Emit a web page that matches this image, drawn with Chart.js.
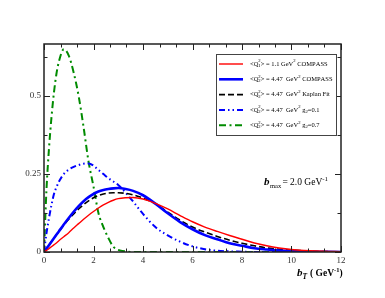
<!DOCTYPE html>
<html>
<head>
<meta charset="utf-8">
<script src="https://cdn.jsdelivr.net/npm/chart.js@4"></script>
<style>
  html, body { margin: 0; padding: 0; background: #fff; }
  #wrap { width: 385px; height: 298px; }
</style>
</head>
<body>
<div id="wrap"><canvas id="chart" width="385" height="298"></canvas></div>
<script>
// b_T in GeV^-1
const bT = [0, 0.1, 0.2, 0.3, 0.4, 0.5, 0.6, 0.8, 1.0, 1.2, 1.4, 1.6, 1.8, 2.0, 2.2, 2.4, 2.6, 2.8, 3.0, 3.3, 3.6,
  4.0, 4.5, 5.0, 5.5, 6.0, 6.5, 7.0, 7.5, 8.0, 8.5, 9.0, 9.5, 10, 10.5, 11, 11.5, 12];

const compassLow = [0, 0.005, 0.011, 0.017, 0.023, 0.029, 0.036, 0.049, 0.062, 0.077, 0.091, 0.105, 0.118, 0.13, 0.141,
  0.151, 0.159, 0.166, 0.171, 0.174, 0.175, 0.17, 0.156, 0.138, 0.117, 0.097, 0.08, 0.066, 0.053, 0.041, 0.029,
  0.02, 0.013, 0.008, 0.005, 0.003, 0.002, 0.001];
const compassHigh = [0, 0.011, 0.022, 0.033, 0.044, 0.055, 0.066, 0.088, 0.109, 0.129, 0.147, 0.163, 0.176, 0.186,
  0.194, 0.199, 0.202, 0.204, 0.205, 0.202, 0.196, 0.182, 0.155, 0.124, 0.096, 0.073, 0.054, 0.041, 0.028, 0.02,
  0.012, 0.008, 0.005, 0.003, 0.002, 0.001, 0.0005, 0];
const kaplanFit = [0, 0.011, 0.022, 0.033, 0.044, 0.055, 0.065, 0.086, 0.105, 0.122, 0.138, 0.152, 0.164, 0.174,
  0.181, 0.186, 0.189, 0.19, 0.19, 0.188, 0.183, 0.173, 0.155, 0.128, 0.102, 0.08, 0.064, 0.05, 0.038, 0.028,
  0.02, 0.013, 0.009, 0.006, 0.004, 0.002, 0.001, 0.0005];
const g2Small = [0, 0.06, 0.108, 0.15, 0.185, 0.207, 0.225, 0.25, 0.264, 0.273, 0.279, 0.283, 0.284, 0.277, 0.263,
  0.25, 0.237, 0.226, 0.215, 0.19, 0.162, 0.122, 0.08, 0.053, 0.033, 0.018, 0.009, 0.004, 0.002, 0.001, 0, 0, 0,
  0, 0, 0, 0, 0];
const g2Large = [0, 0.2, 0.33, 0.43, 0.51, 0.57, 0.61, 0.65, 0.63, 0.575, 0.5, 0.4, 0.29, 0.21, 0.125, 0.08, 0.045,
  0.017, 0.007, 0.002, 0, 0, 0, 0, 0, 0, 0, 0, 0, 0, 0, 0, 0, 0, 0, 0, 0, 0];

const seriesLabels = [
  '<Q₁²> = 1.1 GeV² COMPASS',
  '<Q₂²> = 4.47  GeV² COMPASS',
  '<Q₂²> = 4.47  GeV² Kaplan Fit',
  '<Q₂²> = 4.47  GeV² g₂=0.1',
  '<Q₂²> = 4.47  GeV² g₂=0.7',
];
const xTicks = [0, 2, 4, 6, 8, 10, 12];
const yTicks = [0, 0.25, 0.5];

const SERIF = '"Liberation Serif", "DejaVu Serif", serif';
const SUB = { '₁': '1', '₂': '2' };
const SUP = { '²': '2', '⁻': '-', '¹': '1' };

function points(values) {
  return bT.map((x, i) => ({ x, y: values[i] }));
}

// draws a label, turning unicode sub/superscripts into small shifted text
function drawRich(ctx, text, x, y, size) {
  const big = size + 'px ' + SERIF;
  const small = (size * 0.72).toFixed(1) + 'px ' + SERIF;
  let subX = null;
  for (const ch of text) {
    if (SUB[ch]) {
      ctx.font = small;
      ctx.fillText(SUB[ch], x, y + size * 0.3);
      subX = x;
      x += ctx.measureText(SUB[ch]).width;
    } else if (SUP[ch]) {
      ctx.font = small;
      const sx = subX !== null ? subX : x;
      ctx.fillText(SUP[ch], sx, y - size * 0.45);
      x = Math.max(x, sx + ctx.measureText(SUP[ch]).width);
      subX = null;
    } else {
      ctx.font = big;
      ctx.fillText(ch, x, y);
      x += ctx.measureText(ch).width;
      subX = null;
    }
  }
  return x;
}

const framePlugin = {
  id: 'frame',
  afterDatasetsDraw(chart) {
    const { ctx, chartArea: a, scales } = chart;
    ctx.save();
    ctx.strokeStyle = '#222';
    ctx.lineWidth = 1.5;
    ctx.strokeRect(a.left, a.top, a.right - a.left, a.bottom - a.top);
    ctx.lineWidth = 1;
    ctx.beginPath();
    for (let v = 0; v <= 12.001; v += 2 / 3) {
      const px = Math.round(scales.x.getPixelForValue(v)) + 0.5;
      const len = Math.abs(v / 2 - Math.round(v / 2)) < 0.01 ? 6 : 3.5;
      ctx.moveTo(px, a.bottom); ctx.lineTo(px, a.bottom - len);
      ctx.moveTo(px, a.top); ctx.lineTo(px, a.top + len);
    }
    for (let v = 0; v <= 0.66; v += 0.125) {
      const py = Math.round(scales.y.getPixelForValue(v)) + 0.5;
      const len = Math.abs(v / 0.25 - Math.round(v / 0.25)) < 0.01 ? 6 : 3.5;
      ctx.moveTo(a.left, py); ctx.lineTo(a.left + len, py);
      ctx.moveTo(a.right, py); ctx.lineTo(a.right - len, py);
    }
    ctx.stroke();
    ctx.restore();
  },
  afterDraw(chart) {
    const { ctx } = chart;
    ctx.save();
    // legend box
    const box = { left: 216, top: 54, right: 336, bottom: 135 };
    ctx.fillStyle = '#fff';
    ctx.fillRect(box.left, box.top, box.right - box.left, box.bottom - box.top);
    ctx.strokeStyle = '#444';
    ctx.lineWidth = 1;
    ctx.strokeRect(box.left + 0.5, box.top + 0.5, box.right - box.left, box.bottom - box.top);
    chart.data.datasets.forEach((ds, i) => {
      const y = 64 + i * 15.3;
      ctx.strokeStyle = ds.borderColor;
      ctx.lineWidth = ds.borderWidth;
      ctx.setLineDash(ds.borderDash || []);
      ctx.beginPath();
      ctx.moveTo(219, y); ctx.lineTo(243, y);
      ctx.stroke();
      ctx.setLineDash([]);
      ctx.fillStyle = '#000';
      ctx.textBaseline = 'middle';
      drawRich(ctx, ds.label, 250, y, 6.5);
    });
    ctx.textBaseline = 'alphabetic';
    ctx.fillStyle = '#000';
    // b_max annotation
    ctx.font = 'italic bold 11px ' + SERIF;
    ctx.fillText('b', 264, 185);
    ctx.font = '6.5px ' + SERIF;
    ctx.fillText('max', 270, 188);
    drawRich(ctx, ' = 2.0 GeV⁻¹', 280, 185, 9.5);
    // x axis title
    ctx.font = 'italic bold 11px ' + SERIF;
    ctx.fillText('b', 297, 276);
    ctx.font = 'italic bold 7.5px ' + SERIF;
    ctx.fillText('T', 302.5, 279);
    ctx.font = 'bold 9.5px ' + SERIF;
    let x = 310;
    ctx.fillText('( GeV', x, 276);
    x += ctx.measureText('( GeV').width;
    ctx.font = 'bold 6.5px ' + SERIF;
    ctx.fillText('-1', x, 272);
    x += ctx.measureText('-1').width;
    ctx.font = 'bold 9.5px ' + SERIF;
    ctx.fillText(')', x, 276);
    ctx.restore();
  },
};

const lineStyle = (color, width, dash) => ({
  borderColor: color,
  borderWidth: width,
  borderDash: dash,
  pointRadius: 0,
  fill: false,
  cubicInterpolationMode: 'monotone',
});

const tickFont = { family: SERIF, size: 9 };

// eslint-disable-next-line no-unused-vars
const chart = new Chart(document.getElementById('chart'), {
  type: 'line',
  data: {
    datasets: [
      { label: seriesLabels[0], data: points(compassLow), ...lineStyle('#ff0000', 1.4, []) },
      { label: seriesLabels[1], data: points(compassHigh), ...lineStyle('#0000ff', 2.6, []) },
      { label: seriesLabels[2], data: points(kaplanFit), ...lineStyle('#000000', 1.6, [6, 3]) },
      { label: seriesLabels[3], data: points(g2Small), ...lineStyle('#0000ff', 2, [6, 3, 1.5, 3, 1.5, 3]) },
      { label: seriesLabels[4], data: points(g2Large), ...lineStyle('#008b00', 2, [7, 3.5, 2, 3.5]) },
    ],
  },
  options: {
    responsive: false,
    animation: false,
    devicePixelRatio: 1,
    layout: { padding: { top: 44, right: 44, left: 0, bottom: 0 } },
    plugins: { legend: { display: false }, tooltip: { enabled: false } },
    scales: {
      x: {
        type: 'linear',
        min: 0,
        max: 12,
        grid: { display: false, drawTicks: false },
        border: { display: false },
        afterBuildTicks: (s) => { s.ticks = xTicks.map((v) => ({ value: v })); },
        afterFit: (s) => { s.height = 46; },
        ticks: { font: tickFont, color: '#333', padding: 3, maxRotation: 0, callback: (v) => String(v) },
      },
      y: {
        min: 0,
        max: 0.667,
        grid: { display: false, drawTicks: false },
        border: { display: false },
        afterBuildTicks: (s) => { s.ticks = yTicks.map((v) => ({ value: v })); },
        afterFit: (s) => { s.width = 44; },
        ticks: { font: tickFont, color: '#333', padding: 3, callback: (v) => String(v) },
      },
    },
  },
  plugins: [framePlugin],
});
</script>
</body>
</html>
